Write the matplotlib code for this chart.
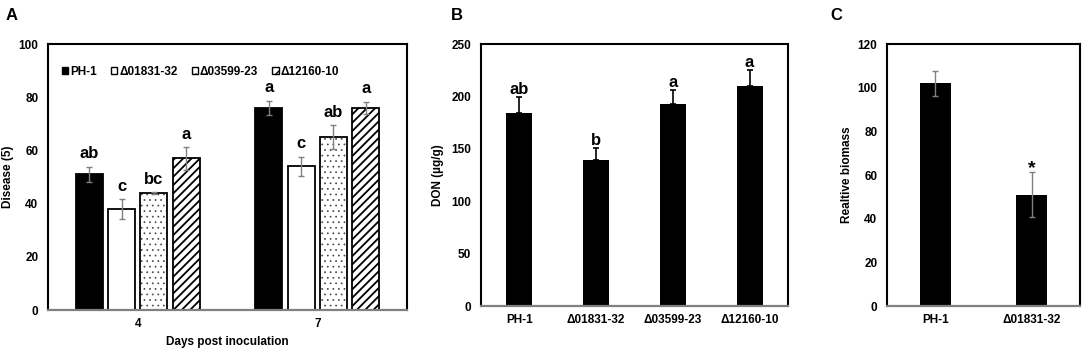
import numpy as np
import matplotlib
matplotlib.use("Agg")
import matplotlib.pyplot as plt
from matplotlib.patches import Patch

plt.rcParams['font.family'] = ['Liberation Sans', 'DejaVu Sans']
plt.rcParams['font.weight'] = 'bold'

# panel A data
days = ['4', '7']
strains = ['PH-1', 'Δ01831-32', 'Δ03599-23', 'Δ12160-10']
disease = [[51, 76], [38, 54], [44, 65], [57, 76]]
disease_err = [[2.8, 2.7], [3.7, 3.6], [0.3, 4.5], [4.2, 2.3]]
disease_letters = [['ab', 'a'], ['c', 'c'], ['bc', 'ab'], ['a', 'a']]

# panel B data
don = [184, 139.5, 193, 210]
don_err = [15.5, 11.5, 13, 15]
don_letters = ['ab', 'b', 'a', 'a']

# panel C data
bio_strains = ['PH-1', 'Δ01831-32']
biomass = [102, 51]
biomass_err = [5.7, 10.4]
biomass_letters = ['', '*']

grey = '#808080'
# (face, hatch, hatch colour, hatch linewidth)
fills = [('black', None, 'black', 1.0),
         ('white', None, 'black', 1.0),
         ('white', '...', '#444444', 0.5),
         ('white', '////', 'black', 1.3)]

fig = plt.figure(figsize=(10.84, 3.51), dpi=100)
axA = fig.add_axes([0.0443, 0.1168, 0.3312, 0.7578])
axB = fig.add_axes([0.4437, 0.1282, 0.2832, 0.7464])
axC = fig.add_axes([0.8183, 0.1282, 0.1780, 0.7464])


def style(ax):
    for s in ['top', 'left', 'right']:
        ax.spines[s].set_color('black')
        ax.spines[s].set_linewidth(1.5)
    ax.spines['bottom'].set_color(grey)
    ax.spines['bottom'].set_linewidth(1.6)
    ax.tick_params(axis='y', length=0, pad=7, labelsize=8.5)
    ax.tick_params(axis='x', length=0, pad=6, labelsize=8.5)


# A
x = np.arange(len(days))
handles = []
for i, name in enumerate(strains):
    pos = x + (i - 1.5) * 0.18
    face, hatch, hcol, hlw = fills[i]
    with plt.rc_context({'hatch.linewidth': hlw}):
        if hatch:
            axA.bar(pos, disease[i], 0.15, color=face, edgecolor=hcol,
                    hatch=hatch, linewidth=0)
            handles.append(Patch(facecolor=face, edgecolor='black',
                                 hatch=hatch[:2], linewidth=1.0, label=name))
        else:
            handles.append(Patch(facecolor=face, edgecolor='black',
                                 linewidth=1.0, label=name))
    axA.bar(pos, disease[i], 0.15, color=face if not hatch else 'none',
            edgecolor='black', linewidth=1.3)
    axA.errorbar(pos, disease[i], yerr=disease_err[i], fmt='none',
                 ecolor=grey, elinewidth=1, capsize=2.2, capthick=1)
    for p, v, e, t in zip(pos, disease[i], disease_err[i], disease_letters[i]):
        axA.annotate(t, (p, v + e), xytext=(0, 4), textcoords='offset points',
                     ha='center', va='bottom', fontsize=12, fontweight='bold')
axA.set_xlim(-0.5, 1.5)
axA.set_ylim(0, 100)
axA.set_yticks(range(0, 101, 20))
axA.set_xticks(x)
axA.set_xticklabels(days)
axA.set_ylabel('Disease (5)', fontsize=8.5, fontweight='bold')
axA.yaxis.set_label_coords(-0.095, 0.5)
axA.set_xlabel('Days post inoculation', fontsize=8.5, fontweight='bold', labelpad=4)
axA.legend(handles=handles, loc='upper left', bbox_to_anchor=(0.015, 0.95),
           ncol=4, frameon=False, fontsize=8.5, handlelength=0.55,
           handleheight=0.55, handletextpad=0.15, columnspacing=1.2,
           borderaxespad=0.3)
style(axA)

# B
xb = np.arange(len(strains))
axB.bar(xb, don, 0.34, color='black')
axB.errorbar(xb, don, yerr=[np.zeros(len(don)), don_err], fmt='none',
             ecolor='black', elinewidth=1.2, capsize=2.2, capthick=1.2)
for p, v, e, t in zip(xb, don, don_err, don_letters):
    axB.annotate(t, (p, v + e), xytext=(0, 0), textcoords='offset points',
                 ha='center', va='bottom', fontsize=12, fontweight='bold')
axB.set_xlim(-0.5, 3.5)
axB.set_ylim(0, 250)
axB.set_yticks(range(0, 251, 50))
axB.set_xticks(xb)
axB.set_xticklabels(strains)
axB.set_ylabel('DON (µg/g)', fontsize=8.5, fontweight='bold')
axB.yaxis.set_label_coords(-0.12, 0.5)
style(axB)

# C
xc = np.arange(len(bio_strains))
axC.bar(xc, biomass, 0.32, color='black')
axC.errorbar(xc, biomass, yerr=biomass_err, fmt='none',
             ecolor=grey, elinewidth=1, capsize=2.2, capthick=1)
for p, v, e, t in zip(xc, biomass, biomass_err, biomass_letters):
    axC.annotate(t, (p, v + e), xytext=(0, -4), textcoords='offset points',
                 ha='center', va='bottom', fontsize=14, fontweight='bold')
axC.set_xlim(-0.5, 1.5)
axC.set_ylim(0, 120)
axC.set_yticks(range(0, 121, 20))
axC.set_xticks(xc)
axC.set_xticklabels(bio_strains)
axC.set_ylabel('Realtive biomass', fontsize=8.5, fontweight='bold')
axC.yaxis.set_label_coords(-0.176, 0.5)
style(axC)

# panel letters
for lx, lab in [(0.005, 'A'), (0.416, 'B'), (0.766, 'C')]:
    fig.text(lx, 0.955, lab, fontsize=12, fontweight='bold', va='center')

fig.savefig('out.png', dpi=100)
